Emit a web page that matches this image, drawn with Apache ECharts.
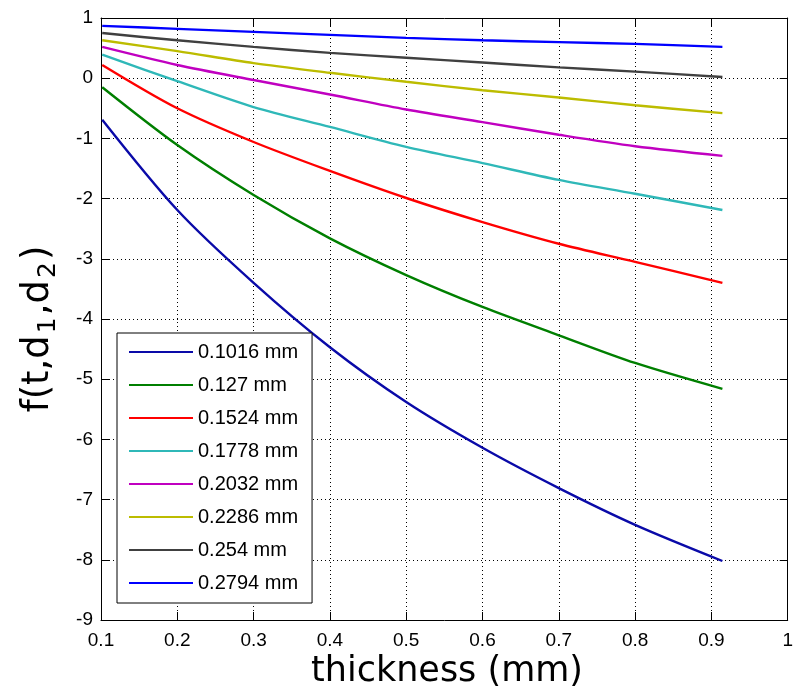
<!DOCTYPE html>
<html><head><meta charset="utf-8">
<script src="https://cdn.jsdelivr.net/npm/echarts@6/dist/echarts.min.js"></script>
<style>html,body{margin:0;padding:0;background:#fff}#c{width:796px;height:693px}</style>
</head><body><div id="c"></div>
<script>
// thickness (mm) sample points
const thickness = [0.1016, 0.2, 0.3, 0.4, 0.5, 0.6, 0.7, 0.8, 0.9144];
const seriesNames = ['0.1016 mm','0.127 mm','0.1524 mm','0.1778 mm','0.2032 mm','0.2286 mm','0.254 mm','0.2794 mm'];
const f_01016 = [-0.69, -2.19, -3.40, -4.47, -5.38, -6.14, -6.81, -7.42, -8.02];
const f_0127  = [-0.15, -1.11, -1.94, -2.66, -3.27, -3.80, -4.27, -4.73, -5.16];
const f_01524 = [0.22, -0.50, -1.06, -1.54, -1.99, -2.39, -2.75, -3.05, -3.40];
const f_01778 = [0.39, -0.05, -0.48, -0.81, -1.14, -1.41, -1.69, -1.92, -2.19];
const f_02032 = [0.52, 0.22, -0.03, -0.27, -0.52, -0.73, -0.94, -1.13, -1.29];
const f_02286 = [0.63, 0.45, 0.25, 0.09, -0.06, -0.20, -0.32, -0.45, -0.58];
const f_0254  = [0.75, 0.63, 0.52, 0.42, 0.34, 0.26, 0.18, 0.11, 0.02];
const f_02794 = [0.87, 0.82, 0.77, 0.72, 0.67, 0.63, 0.60, 0.57, 0.52];
const allValues = [f_01016, f_0127, f_01524, f_01778, f_02032, f_02286, f_0254, f_02794];
const colors = ['#0a0aa8','#007f00','#ff0000','#2fb8b8','#c000c0','#bcbc00','#404040','#0000ff'];
const xMin = 0.1, xMax = 1, xStep = 0.1;
const yMin = -9, yMax = 1, yStep = 1;

const chart = echarts.init(document.getElementById('c'), null, {renderer:'canvas'});
const tickFont = {fontFamily:'Liberation Sans, Arial, sans-serif', fontSize:19, color:'#000'};
const baseAxis = {
  axisLine:{show:true, onZero:false, lineStyle:{color:'#000', width:1}},
  axisTick:{show:true, inside:true, length:8, lineStyle:{color:'#000'}},
};
const series = allValues.map((vals, i) => ({
  name: seriesNames[i], type:'line', xAxisIndex:0, yAxisIndex:0,
  data: thickness.map((t, j) => [t, vals[j]]),
  smooth: 0.3, symbol:'none', showSymbol:false,
  lineStyle:{color:colors[i], width:2.4}, itemStyle:{color:colors[i]}, z: 3
}));
chart.setOption({
  animation:false,
  backgroundColor:'#fff',
  grid:{left:101, right:3, top:18, bottom:73, containLabel:false},
  xAxis:[
    Object.assign({type:'value', min:xMin, max:xMax, interval:xStep, position:'bottom',
      axisLabel:Object.assign({margin:11, formatter:v=>String(+v.toFixed(1))}, tickFont),
      splitLine:{show:true, lineStyle:{color:'#000', type:[1,3], width:1}}}, baseAxis),
    Object.assign({type:'value', min:xMin, max:xMax, interval:xStep, position:'top',
      axisLabel:{show:false}, splitLine:{show:false}}, baseAxis)
  ],
  yAxis:[
    Object.assign({type:'value', min:yMin, max:yMax, interval:yStep, position:'left',
      axisLabel:Object.assign({margin:8}, tickFont),
      splitLine:{show:true, lineStyle:{color:'#000', type:[1,3], width:1}}}, baseAxis),
    Object.assign({type:'value', min:yMin, max:yMax, interval:yStep, position:'right',
      axisLabel:{show:false}, splitLine:{show:false}}, baseAxis)
  ],
  legend:{
    orient:'vertical', left:117, top:333, data:seriesNames,
    backgroundColor:'#fff', borderColor:'#000', borderWidth:1, borderRadius:0,
    padding:[9,14,10,12], itemWidth:64, itemHeight:14, itemGap:13,
    textStyle:{fontFamily:'Liberation Sans, Arial, sans-serif', fontSize:20, lineHeight:20, color:'#000'},
    icon:'path://M0,6 L64,6 L64,8 L0,8 Z'
  },
  graphic:[
    {type:'text', x:447, y:672, style:{text:'thickness (mm)', fontFamily:'DejaVu Sans, sans-serif', fontSize:35, fill:'#000', align:'center', verticalAlign:'middle'}},
    {type:'text', x:38, y:329, rotation:Math.PI/2, style:{
      text:'{a|f(t,d}{s|1}{a|,d}{s|2}{a|)}', align:'center', verticalAlign:'middle',
      rich:{
        a:{fontFamily:'DejaVu Sans, sans-serif', fontSize:37, lineHeight:46, fill:'#000', verticalAlign:'middle'},
        s:{fontFamily:'DejaVu Sans, sans-serif', fontSize:25, lineHeight:46, fill:'#000', verticalAlign:'bottom', padding:[0,2,0,2]}
      }}}
  ],
  series: series
});
</script></body></html>
